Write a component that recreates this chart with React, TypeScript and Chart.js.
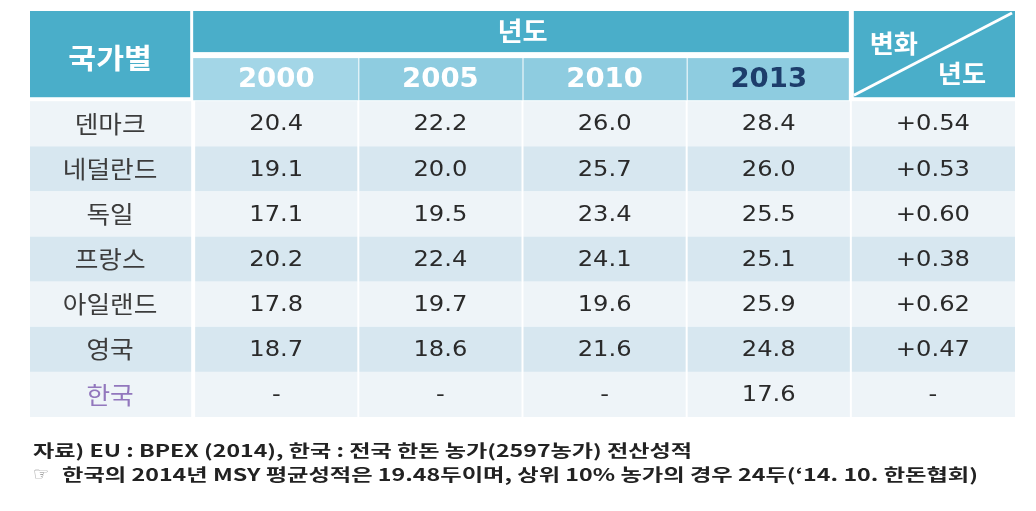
import React, { useEffect, useRef } from 'react';
import { Chart, registerables } from 'chart.js';

Chart.register(...registerables);

// ---- data ----
const countries = ['덴마크', '네덜란드', '독일', '프랑스', '아일랜드', '영국', '한국'];
const yearLabels = ['2000', '2005', '2010', '2013'];
const values2000: (number | null)[] = [20.4, 19.1, 17.1, 20.2, 17.8, 18.7, null];
const values2005: (number | null)[] = [22.2, 20.0, 19.5, 22.4, 19.7, 18.6, null];
const values2010: (number | null)[] = [26.0, 25.7, 23.4, 24.1, 19.6, 21.6, null];
const values2013: (number | null)[] = [28.4, 26.0, 25.5, 25.1, 25.9, 24.8, 17.6];
const changePerYear: (number | null)[] = [0.54, 0.53, 0.6, 0.38, 0.62, 0.47, null];

const headerCountry = '국가별';
const headerYear = '년도';
const headerChangeTop = '변화';
const headerChangeBottom = '년도';
const noteSource = '자료) EU : BPEX (2014), 한국 : 전국 한돈 농가(2597농가) 전산성적';
const noteIcon = '☞';
const noteText = '한국의 2014년 MSY 평균성적은 19.48두이며, 상위 10% 농가의 경우 24두(‘14. 10. 한돈협회)';

// ---- styles ----
const TEAL = '#4aaec9';
const SUB = '#8ecce0';
const SUB_FIRST = '#a3d6e7';
const ROW_LIGHT = '#eef4f8';
const ROW_DARK = '#d7e7f0';
const KR = '"Noto Sans CJK KR", "Noto Sans", sans-serif';
const NUM = '"DejaVu Sans", sans-serif';

function drawText(ctx: CanvasRenderingContext2D, text: string, x: number, y: number, font: string, color: string, sx = 1, align: CanvasTextAlign = 'center') {
  ctx.save();
  ctx.font = font;
  ctx.fillStyle = color;
  ctx.textAlign = align;
  ctx.textBaseline = 'middle';
  ctx.translate(x, y);
  ctx.scale(sx, 1);
  ctx.fillText(text, 0, 0);
  ctx.restore();
}

function drawFitted(ctx: CanvasRenderingContext2D, text: string, x: number, y: number, font: string, color: string, width: number) {
  ctx.save();
  ctx.font = font;
  const w = ctx.measureText(text).width;
  ctx.fillStyle = color;
  ctx.textAlign = 'left';
  ctx.textBaseline = 'middle';
  ctx.translate(x, y);
  ctx.scale(width / w, 1);
  ctx.fillText(text, 0, 0);
  ctx.restore();
}

export default function App() {
  const ref = useRef<HTMLCanvasElement>(null);

  useEffect(() => {
    document.body.style.margin = '0';
    const canvas = ref.current!;
    const fmt1 = (v: number | null) => (v == null ? '-' : v.toFixed(1));
    const fmtChg = (v: number | null) => (v == null ? '-' : '+' + v.toFixed(2));

    const columns = [
      { name: headerCountry, texts: countries, kind: 'name' },
      { name: yearLabels[0], texts: values2000.map(fmt1), kind: 'num' },
      { name: yearLabels[1], texts: values2005.map(fmt1), kind: 'num' },
      { name: yearLabels[2], texts: values2010.map(fmt1), kind: 'num' },
      { name: yearLabels[3], texts: values2013.map(fmt1), kind: 'num' },
      { name: headerChangeTop, texts: changePerYear.map(fmtChg), kind: 'num' },
    ];

    const tablePlugin = {
      id: 'tablePlugin',
      beforeDatasetsDraw(chart: any) {
        const { ctx, scales } = chart;
        const X = (v: number) => scales.x.getPixelForValue(v);
        const Y = (v: number) => scales.y.getPixelForValue(v);
        ctx.save();
        // header: country cell
        ctx.fillStyle = TEAL;
        ctx.fillRect(X(0), Y(0), X(1) - X(0) - 4, Y(2) - Y(0) - 4);
        // year band
        ctx.fillRect(X(1) - 1, Y(0), X(5) - X(1) - 1, Y(1) - Y(0) - 4);
        // sub header cells
        for (let i = 0; i < yearLabels.length; i++) {
          ctx.fillStyle = i === 0 ? SUB_FIRST : SUB;
          const x0 = X(1 + i) + (i === 0 ? -1 : 1);
          const x1 = X(2 + i) - (i === yearLabels.length - 1 ? 2 : 0);
          ctx.fillRect(x0, Y(1) + 2, x1 - x0, Y(2) - Y(1) - 3);
        }
        // change cell
        ctx.fillStyle = TEAL;
        ctx.fillRect(X(5) + 3, Y(0), X(6) - X(5) - 3, Y(2) - Y(0) - 4);
        ctx.strokeStyle = '#ffffff';
        ctx.lineWidth = 3;
        ctx.beginPath();
        ctx.moveTo(X(5) + 3, Y(2) - 6);
        ctx.lineTo(X(6) - 3, Y(0) + 2);
        ctx.stroke();
        // data rows
        for (let r = 0; r < countries.length; r++) {
          ctx.fillStyle = r % 2 === 0 ? ROW_LIGHT : ROW_DARK;
          const y0 = Y(2 + r);
          const y1 = Y(3 + r);
          for (let c = 0; c < columns.length; c++) {
            const x0 = X(c) + (c === 0 ? 0 : 1);
            const x1 = X(c + 1) - (c === columns.length - 1 ? 0 : c === 0 ? 3 : 1);
            ctx.fillRect(x0, y0, x1 - x0, y1 - y0);
          }
        }
        ctx.restore();

        // header text
        drawText(ctx, headerCountry, (X(0) + X(1)) / 2 - 2, (Y(0) + Y(2)) / 2 + 2, `bold 28px ${KR}`, '#ffffff', 1.08);
        drawText(ctx, headerYear, (X(1) + X(5)) / 2, (Y(0) + Y(1)) / 2 - 2, `bold 26px ${KR}`, '#ffffff', 1.05);
        yearLabels.forEach((lab, i) => {
          drawText(ctx, lab, (X(1 + i) + X(2 + i)) / 2, (Y(1) + Y(2)) / 2 + 1, `bold 27px ${NUM}`, i === 3 ? '#1d3d6b' : '#ffffff', 1.02);
        });
        drawText(ctx, headerChangeTop, X(5) + 43, Y(0) + 32, `bold 25px ${KR}`, '#ffffff', 1.05);
        drawText(ctx, headerChangeBottom, X(6) - 53, Y(0) + 62, `bold 25px ${KR}`, '#ffffff', 1.05);
      },
      afterDatasetsDraw(chart: any) {
        const { ctx } = chart;
        chart.data.datasets.forEach((ds: any, c: number) => {
          const meta = chart.getDatasetMeta(c);
          meta.data.forEach((pt: any, r: number) => {
            const t = ds.texts[r];
            if (ds.kind === 'name') {
              const color = r === countries.length - 1 ? '#9277bd' : '#3c3c3c';
              drawText(ctx, t, pt.x - 2, pt.y, `24px ${KR}`, color, 1.07);
            } else {
              drawText(ctx, t, pt.x, pt.y + 1, `22px ${NUM}`, '#2a2a2a', 1.1);
            }
          });
        });
      },
      afterDraw(chart: any) {
        const { ctx, chartArea } = chart;
        const left = chartArea.left + 3;
        const y1 = chartArea.bottom + 34;
        const y2 = chartArea.bottom + 58;
        drawFitted(ctx, noteSource, left, y1, `bold 17px ${KR}`, '#222222', 659);
        drawText(ctx, noteIcon, left + 8, y2, `18px "DejaVu Sans", sans-serif`, '#8a8a8a', 1, 'center');
        drawFitted(ctx, noteText, left + 29, y2, `bold 17px ${KR}`, '#222222', 916);
      },
    };

    const chart = new Chart(canvas, {
      type: 'scatter',
      data: {
        datasets: columns.map((col, c) => ({
          label: col.name,
          data: col.texts.map((_, r) => ({ x: c + 0.5, y: r + 2.5 })),
          pointRadius: 0,
          pointHoverRadius: 0,
          texts: col.texts,
          kind: col.kind,
        })) as any,
      },
      options: {
        animation: false,
        responsive: false,
        devicePixelRatio: 1,
        layout: { padding: { left: 30, right: 21, top: 11, bottom: 94 } },
        scales: {
          x: { type: 'linear', min: 0, max: 6, display: false },
          y: { type: 'linear', min: 0, max: 9, reverse: true, display: false },
        },
        plugins: { legend: { display: false }, tooltip: { enabled: false } },
        events: [],
      },
      plugins: [tablePlugin],
    });
    return () => chart.destroy();
  }, []);

  return <canvas ref={ref} width={1036} height={511} style={{ display: 'block' }} />;
}
